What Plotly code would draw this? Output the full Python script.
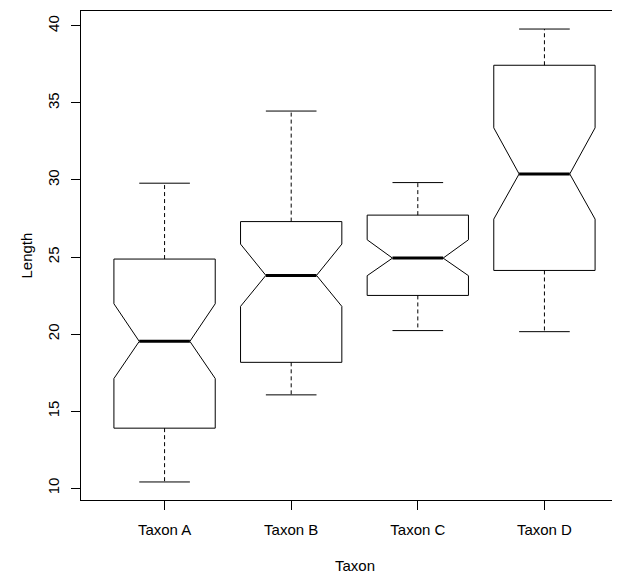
import plotly.graph_objects as go

# ---- data ----
taxa = ["Taxon A", "Taxon B", "Taxon C", "Taxon D"]
lower_whisker = [10.41, 16.06, 20.23, 20.16]
q1 = [13.90, 18.17, 22.51, 24.13]
notch_low = [17.12, 21.80, 23.79, 27.46]
median = [19.53, 23.81, 24.93, 30.39]
notch_high = [21.97, 25.84, 26.12, 33.38]
q3 = [24.87, 27.30, 27.72, 37.44]
upper_whisker = [29.79, 34.47, 29.83, 39.79]
y_ticks = [10, 15, 20, 25, 30, 35, 40]

FONT = "Liberation Sans, Arial, Helvetica, sans-serif"
HALF = 0.4      # half box width (R boxwex 0.8)
NECK = 0.2      # half width at the notch neck
CAP = 0.2       # half width of whisker caps

fig = go.Figure()
for i, name in enumerate(taxa):
    x = i + 1
    # notched outline
    xs = [x - HALF, x - HALF, x - NECK, x - HALF, x - HALF,
          x + HALF, x + HALF, x + NECK, x + HALF, x + HALF, x - HALF]
    ys = [q1[i], notch_low[i], median[i], notch_high[i], q3[i],
          q3[i], notch_high[i], median[i], notch_low[i], q1[i], q1[i]]
    fig.add_trace(go.Scatter(x=xs, y=ys, mode="lines",
                             line=dict(color="black", width=1),
                             hoverinfo="skip", showlegend=False))
    # median
    fig.add_trace(go.Scatter(x=[x - NECK, x + NECK], y=[median[i], median[i]],
                             mode="lines", line=dict(color="black", width=3),
                             hoverinfo="skip", showlegend=False))
    # dashed whiskers
    for a, b in [(q3[i], upper_whisker[i]), (q1[i], lower_whisker[i])]:
        fig.add_trace(go.Scatter(x=[x, x], y=[a, b], mode="lines",
                                 line=dict(color="black", width=1, dash="4px,3px"),
                                 hoverinfo="skip", showlegend=False))
    # caps
    for w in [upper_whisker[i], lower_whisker[i]]:
        fig.add_trace(go.Scatter(x=[x - CAP, x + CAP], y=[w, w], mode="lines",
                                 line=dict(color="black", width=1),
                                 hoverinfo="skip", showlegend=False))

# the page body has an 8px default margin; margins below compensate for it
fig.update_layout(
    width=620, height=573,
    margin=dict(l=72.7, r=0, t=3, b=80.5),
    paper_bgcolor="white", plot_bgcolor="white",
    font=dict(family=FONT, size=15, color="black"),
    showlegend=False,
    xaxis=dict(range=[0.34, 4.66], tickmode="array",
               tickvals=[1, 2, 3, 4], ticktext=taxa,
               showgrid=False, zeroline=False,
               showline=True, mirror=True, linecolor="black", linewidth=1,
               ticks="outside", ticklen=9, tickcolor="black", tickwidth=1,
               ticklabelstandoff=7),
    yaxis=dict(range=[9.24, 40.96], tickmode="array", tickvals=y_ticks,
               showgrid=False, zeroline=False,
               showline=True, mirror=False, linecolor="black", linewidth=1,
               ticks="outside", ticklen=9, tickcolor="black", tickwidth=1,
               tickangle=-90, ticklabelstandoff=6),
    annotations=[
        dict(text="Length", xref="paper", yref="paper", x=0, y=0.5,
             xanchor="center", yanchor="middle", xshift=-55, textangle=-90,
             showarrow=False, font=dict(family=FONT, size=15)),
        dict(text="Taxon", xref="x", yref="paper", x=2.5, y=0,
             xanchor="center", yanchor="middle", yshift=-65.5, showarrow=False,
             font=dict(family=FONT, size=15)),
    ],
)

fig.write_html("out.html")
